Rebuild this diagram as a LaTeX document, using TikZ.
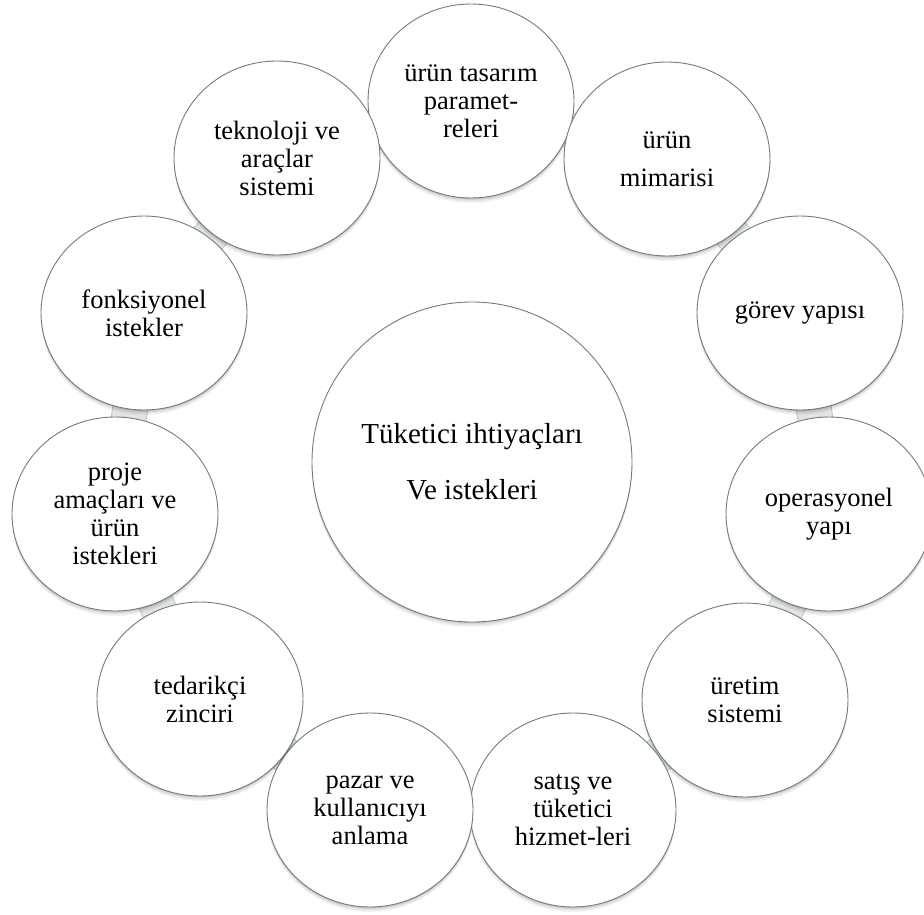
\documentclass[tikz,border=0pt]{standalone}
\usepackage{fontspec}
\setmainfont{Liberation Serif}
\usetikzlibrary{shapes.geometric,shadows,backgrounds}
\definecolor{rim}{HTML}{6E7C82}
\definecolor{linkgray}{HTML}{E3E4E5}
\definecolor{linkedge}{HTML}{C4C6C8}

\begin{document}
\begin{tikzpicture}[x=1pt,y=-1pt,
  softshadow/.style={
    general shadow={fill=black,opacity=.07,shadow yshift=-1pt},
    general shadow={fill=black,opacity=.07,shadow yshift=-2pt},
    general shadow={fill=black,opacity=.06,shadow yshift=-3.5pt},
    general shadow={fill=black,opacity=.05,shadow yshift=-5pt}},
  bubble/.style={ellipse, draw=rim, line width=0.9pt, fill=white, softshadow,
    minimum width=206pt, minimum height=194pt, inner sep=0pt, align=center,
    font=\fontsize{26.5}{28}\selectfont},
  hub/.style={circle, draw=rim, line width=0.9pt, fill=white, softshadow,
    minimum size=320pt, inner sep=0pt, align=center,
    font=\fontsize{29}{28}\selectfont},
  ringlink/.style={draw=linkedge, line width=36pt,
    postaction={draw=linkgray, line width=34pt}}
]
\useasboundingbox (0,0) rectangle (924,915);

% central topic
\node[hub] (hub) at (472,462) {Tüketici ihtiyaçları\\[28pt]Ve istekleri};

% surrounding topics, clockwise from the top
\node[bubble] (n1)  at (471,101) {ürün tasarım\\paramet-\\releri};
\node[bubble] (n2)  at (667,159) {ürün\\[10pt]mimarisi};
\node[bubble] (n3)  at (800,313) {görev yapısı};
\node[bubble] (n4)  at (829,514) {operasyonel\\yapı};
\node[bubble] (n5)  at (745,700) {üretim\\sistemi};
\node[bubble] (n6)  at (573,810) {satış ve\\tüketici\\hizmet-leri};
\node[bubble] (n7)  at (370,810) {pazar ve\\kullanıcıyı\\anlama};
\node[bubble] (n8)  at (200,699) {tedarikçi\\zinciri};
\node[bubble] (n9)  at (115,514) {proje\\amaçları ve\\ürün\\istekleri};
\node[bubble] (n10) at (144,313) {fonksiyonel\\istekler};
\node[bubble] (n11) at (277,158) {teknoloji ve\\araçlar\\sistemi};

% ring of links behind the bubbles
\begin{scope}[on background layer]
  \foreach \a/\b in {n1/n2,n2/n3,n3/n4,n4/n5,n5/n6,n6/n7,n7/n8,n8/n9,n9/n10,n10/n11,n11/n1}
    \draw[ringlink] (\a.center) -- (\b.center);
\end{scope}
\end{tikzpicture}
\end{document}
